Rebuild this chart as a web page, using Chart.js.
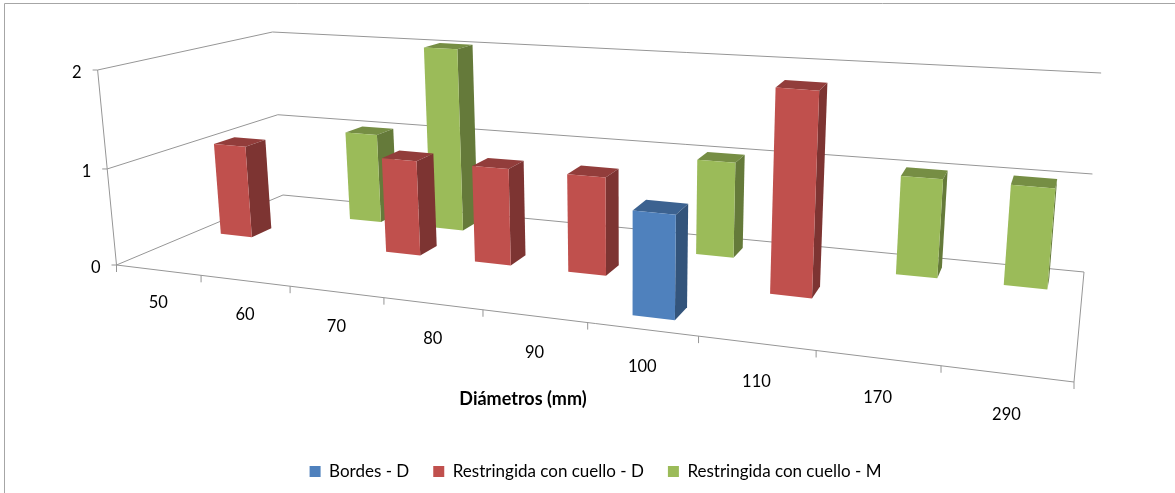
<!DOCTYPE html>
<html lang="es">
<head>
<meta charset="UTF-8">
<title>Diámetros</title>
<style>
    html, body { margin: 0; padding: 0; background: #fff; }
    canvas { display: block; }
</style>
</head>
<body>
<canvas id="chart" width="1175" height="493"></canvas>
<script src="https://cdn.jsdelivr.net/npm/chart.js"></script>
<script>
const categories = ['50', '60', '70', '80', '90', '100', '110', '170', '290'];
const bordesD = [null, null, null, null, null, 1, null, null, null];
const restringidaD = [1, null, 1, 1, 1, null, 2, null, null];
const restringidaM = [null, 1, 2, null, null, 1, null, 1, 1];
const yMax = 2;
const axisTitle = 'Diámetros (mm)';

// Floor corners on screen: front-left, front-right, back-right, back-left
const floorQuad = [[116.5, 265], [1074, 382], [1084, 272], [283, 195]];
// Height in pixels of the full y range over those same corners
const cornerHeights = [195, 231, 199, 163];
// Uprights all converge on this point below the chart
const vanishing = [629, 5556];

const FONT = 'Lato, sans-serif';
const GRID = '#969696';

// maps the unit square (u along the categories, w into the depth) onto a quad
function quadMapper(q) {
    const [[x0, y0], [x1, y1], [x2, y2], [x3, y3]] = q;
    const sx = x0 - x1 + x2 - x3, sy = y0 - y1 + y2 - y3;
    const dx1 = x1 - x2, dx2 = x3 - x2, dy1 = y1 - y2, dy2 = y3 - y2;
    const det = dx1 * dy2 - dx2 * dy1;
    const g = (sx * dy2 - dx2 * sy) / det;
    const h = (dx1 * sy - sx * dy1) / det;
    const a = x1 - x0 + g * x1, b = x3 - x0 + h * x3;
    const d = y1 - y0 + g * y1, e = y3 - y0 + h * y3;
    return (u, w) => {
        const k = g * u + h * w + 1;
        return [(a * u + b * w + x0) / k, (d * u + e * w + y0) / k];
    };
}
const onFloor = quadMapper(floorQuad);

// v is a fraction of the y range; heights stretch a little towards the top
function project(u, w, v) {
    const p = onFloor(u, w);
    const [fl, fr, br, bl] = cornerHeights;
    const h = (fl * (1 - u) + fr * u) * (1 - w) + (bl * (1 - u) + br * u) * w;
    const slope = (vanishing[0] - p[0]) / (vanishing[1] - p[1]);
    const y = h * v * (1 + 0.03 * (v - 1));
    return [p[0] - slope * y, p[1] - y];
}

function shade(hex, f) {
    const n = parseInt(hex.slice(1), 16);
    const c = [n >> 16, (n >> 8) & 255, n & 255].map(x => Math.round(x * f));
    return `rgb(${c.join(',')})`;
}

function line(ctx, a, b) {
    ctx.beginPath();
    ctx.moveTo(a[0], a[1]);
    ctx.lineTo(b[0], b[1]);
    ctx.stroke();
}

function poly(ctx, pts, color) {
    ctx.fillStyle = color;
    ctx.beginPath();
    pts.forEach((p, i) => i ? ctx.lineTo(p[0], p[1]) : ctx.moveTo(p[0], p[1]));
    ctx.closePath();
    ctx.fill();
}

function drawFrame(chart) {
    const ctx = chart.ctx;
    const yTicks = chart.scales.y.ticks;
    ctx.strokeStyle = GRID;
    ctx.lineWidth = 1;

    // wall gridlines and value labels
    ctx.fillStyle = '#000';
    ctx.font = '16.5px ' + FONT;
    ctx.textAlign = 'right';
    ctx.textBaseline = 'middle';
    yTicks.forEach(t => {
        const v = t.value / yMax;
        const front = project(0, 0, v);
        const corner = project(0, 1, v);
        line(ctx, front, corner);
        line(ctx, corner, project(1, 1, v));
        line(ctx, [front[0] - 5, front[1]], front);
        ctx.fillText(t.label, front[0] - 16, front[1] + 2.5);
    });
    line(ctx, project(0, 0, 0), project(0, 0, 1));
    line(ctx, project(0, 0, 0), project(1, 0, 0));
    line(ctx, project(1, 0, 0), project(1, 1, 0));

    // category ticks and labels along the front edge
    const n = categories.length;
    ctx.textAlign = 'center';
    for (let i = 0; i <= n; i++) {
        const p = project(i / n, 0, 0);
        line(ctx, p, [p[0], p[1] + 7]);
    }
    chart.scales.x.getLabels().forEach((label, i) => {
        const u = (i + 0.5) / n;
        const p = project(u, 0, 0);
        ctx.fillText(label, p[0], p[1] + 32 + 9 * u);
    });

    ctx.font = 'bold 18px ' + FONT;
    ctx.fillText(axisTitle, 523, 399);
}

function drawBars(chart) {
    const ctx = chart.ctx;
    const xs = chart.scales.x, ys = chart.scales.y;
    const rows = chart.data.datasets.length;
    const depth = 0.37 / rows;
    // furthest row first so the nearer bars cover it
    for (let r = rows - 1; r >= 0; r--) {
        const ds = chart.data.datasets[r];
        const meta = chart.getDatasetMeta(r);
        meta.data.forEach((bar, i) => {
            if (ds.data[i] === null) return;
            const half = bar.width / 2;
            const u0 = (bar.x - half - xs.left) / xs.width;
            const u1 = (bar.x + half - xs.left) / xs.width;
            const w0 = (r + 0.5) / rows - depth / 2;
            const w1 = w0 + depth;
            const v = ys.getValueForPixel(bar.y) / yMax;
            const color = ds.backgroundColor;
            poly(ctx, [project(u0, w0, v), project(u1, w0, v), project(u1, w1, v), project(u0, w1, v)], shade(color, 0.76));
            poly(ctx, [project(u1, w0, 0), project(u1, w1, 0), project(u1, w1, v), project(u1, w0, v)], shade(color, 0.65));
            poly(ctx, [project(u0, w0, 0), project(u1, w0, 0), project(u1, w0, v), project(u0, w0, v)], color);
        });
    }
}

const boxPlugin = {
    id: 'box3d',
    beforeDraw(chart) {
        const ctx = chart.ctx;
        ctx.save();
        ctx.strokeStyle = '#a6a6a6';
        ctx.lineWidth = 1;
        ctx.beginPath();
        ctx.moveTo(4.5, 493);
        ctx.lineTo(4.5, 3.5);
        ctx.lineTo(1175, 3.5);
        ctx.stroke();
        ctx.restore();
    },
    // the flat bars are replaced by their projected boxes
    beforeDatasetsDraw(chart) {
        const ctx = chart.ctx;
        ctx.save();
        drawFrame(chart);
        drawBars(chart);
        ctx.restore();
        return false;
    }
};

new Chart(document.getElementById('chart'), {
    type: 'bar',
    data: {
        labels: categories,
        datasets: [
            { label: 'Bordes - D', data: bordesD, backgroundColor: '#4F81BD' },
            { label: 'Restringida con cuello - D', data: restringidaD, backgroundColor: '#C0504D' },
            { label: 'Restringida con cuello - M', data: restringidaM, backgroundColor: '#9BBB59' }
        ]
    },
    options: {
        responsive: false,
        animation: false,
        layout: { padding: { left: 16, bottom: 3 } },
        datasets: { bar: { grouped: false, categoryPercentage: 1, barPercentage: 0.39, borderWidth: 0 } },
        scales: {
            x: { display: false },
            y: { display: false, min: 0, max: yMax, ticks: { stepSize: 1 } }
        },
        plugins: {
            tooltip: { enabled: false },
            legend: {
                position: 'bottom',
                labels: { boxWidth: 11, boxHeight: 11, padding: 24, color: '#000', font: { family: FONT, size: 17 } }
            }
        }
    },
    plugins: [boxPlugin]
});
</script>
</body>
</html>
